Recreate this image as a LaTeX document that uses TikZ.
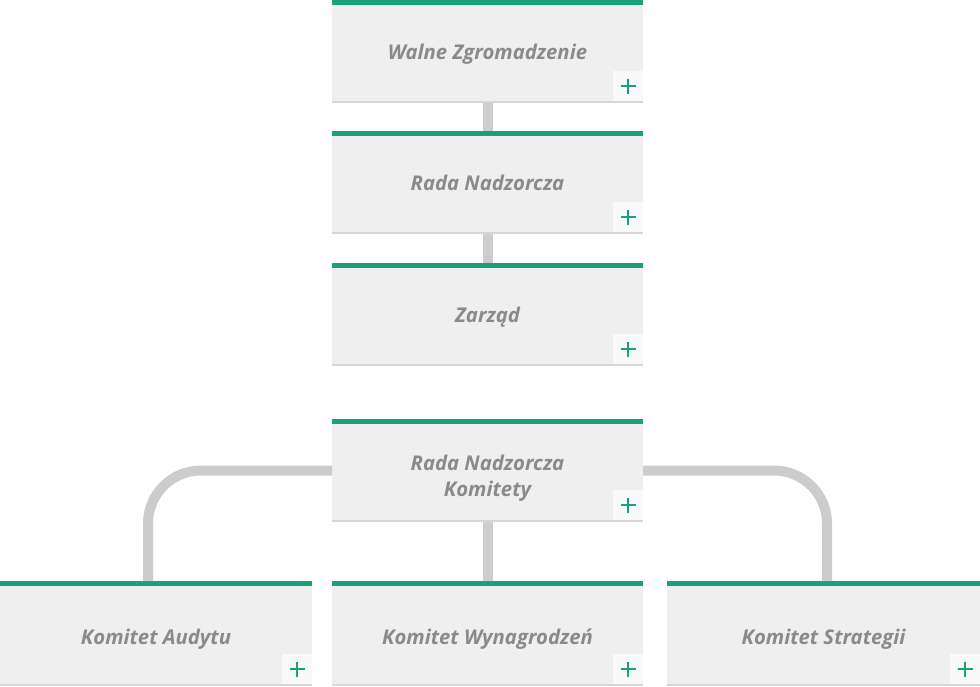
\documentclass[tikz,border=0pt]{standalone}
\usepackage{fontspec}
\newfontfamily\boxfont{Open Sans}
\definecolor{topgreen}{RGB}{27,160,125}
\definecolor{boxgray}{RGB}{239,239,239}
\definecolor{plusgray}{RGB}{249,249,249}
\definecolor{shadegray}{RGB}{214,214,214}
\definecolor{linegray}{RGB}{204,204,204}
\definecolor{txtgray}{RGB}{138,138,138}
\begin{document}
\begin{tikzpicture}[x=1pt,y=-1pt,
	org_box/.style={fill=boxgray,inner sep=0pt,outer sep=0pt,minimum width=311pt,minimum height=103pt,align=center,text depth=0pt,text=txtgray,font=\boxfont\bfseries\itshape\fontsize{20.3}{26}\selectfont,
		path picture={
			\fill[topgreen] (path picture bounding box.north west) rectangle ([yshift=-5pt]path picture bounding box.north east);
			\fill[shadegray] ([yshift=2pt]path picture bounding box.south west) rectangle (path picture bounding box.south east);
			\fill[plusgray] ([xshift=-30pt,yshift=32pt]path picture bounding box.south east) rectangle ([yshift=2pt]path picture bounding box.south east);
			\draw[topgreen,line width=2pt] ([xshift=-22.5pt,yshift=17pt]path picture bounding box.south east) -- ([xshift=-7.5pt,yshift=17pt]path picture bounding box.south east);
			\draw[topgreen,line width=2pt] ([xshift=-15pt,yshift=24.5pt]path picture bounding box.south east) -- ([xshift=-15pt,yshift=9.5pt]path picture bounding box.south east);
		}},
	sub_box/.style={org_box,minimum height=105pt,text height=21.5pt},
	link/.style={draw=linegray,line width=10pt,rounded corners=53pt}]
	
	\useasboundingbox (0,0) rectangle (980,686);
	
	\node[org_box] (walne) at (487.5,51.5) {Walne Zgromadzenie};
	\node[org_box] (rada) at (487.5,182.5) {Rada Nadzorcza};
	\node[org_box] (zarzad) at (487.5,314.5) {Zarząd};
	\node[org_box,text height=51pt] (komitety) at (487.5,470.5) {Rada Nadzorcza\\Komitety};
	\node[sub_box,minimum width=312pt] (audyt) at (156,633.5) {Komitet Audytu};
	\node[sub_box] (wynagr) at (487.5,633.5) {Komitet Wynagrodzeń};
	\node[sub_box,minimum width=313pt] (strateg) at (823.5,633.5) {Komitet Strategii};
	
	\draw[link] (walne) -- (rada);
	\draw[link] (rada) -- (zarzad);
	\draw[link] (komitety) -- (wynagr);
	\draw[link] (komitety.west) -| ([xshift=-8pt]audyt.north);
	\draw[link] (komitety.east) -| ([xshift=3.5pt]strateg.north);
\end{tikzpicture}
\end{document}
